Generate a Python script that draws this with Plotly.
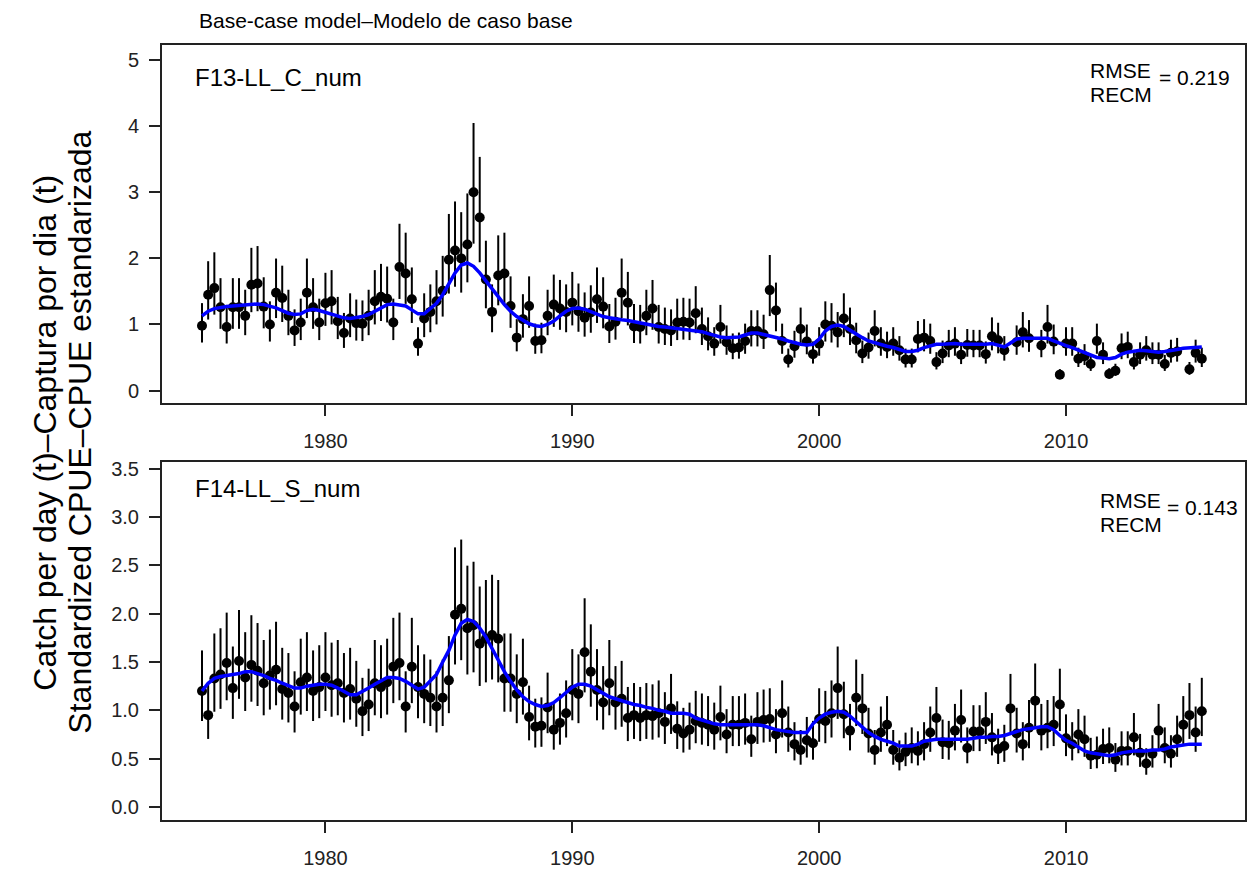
import numpy as np
import plotly.graph_objects as go

# ---------------- data ----------------
start_year = 1975.0
n_q = 163
years = [start_year + q / 4 for q in range(n_q)]

top_obs = [0.98,1.45,1.55,1.26,0.96,1.26,1.26,1.13,1.60,1.62,1.27,1.00,1.48,1.40,1.13,0.91,1.03,1.48,1.26,1.03,
           1.32,1.35,1.05,0.87,1.09,1.02,1.01,1.13,1.35,1.42,1.39,1.03,1.87,1.77,1.38,0.71,1.09,
           1.19,1.35,1.51,1.98,2.12,2.00,2.21,3.00,2.62,1.68,1.19,1.74,1.77,1.28,0.80,1.08,1.28,0.75,0.76,1.13,
           1.30,1.24,1.19,1.33,1.20,1.10,1.18,1.38,1.27,0.97,1.04,1.48,1.33,0.97,0.96,1.13,1.24,0.96,0.93,0.91,
           1.03,1.04,1.03,1.17,
           0.93,0.82,0.71,0.96,0.73,0.64,0.65,0.75,0.90,0.90,0.85,1.52,1.21,0.75,0.47,0.67,0.93,0.74,0.55,0.71,
           1.00,0.98,0.88,1.09,0.93,0.76,0.56,0.65,0.90,0.71,0.66,0.71,0.61,0.47,0.47,0.78,0.80,0.75,0.43,0.56,
           0.68,0.71,
           0.54,0.69,0.68,0.68,0.55,0.82,0.76,0.61,None,0.73,0.88,0.79,None,0.68,0.96,0.74,0.24,0.71,0.71,0.48,
           0.52,0.40,0.75,0.54,0.25,0.30,0.64,0.66,0.43,0.54,0.61,0.54,0.54,0.40,0.57,0.59,None,0.32,0.57,0.48]

top_fit = [1.13,1.20,1.24,1.26,1.27,1.28,1.29,1.30,1.31,1.31,1.30,1.28,1.25,1.21,1.17,1.15,1.16,1.21,1.23,1.21,
           1.18,1.15,1.12,1.10,1.09,1.10,1.12,1.15,1.20,1.26,1.30,1.31,1.30,1.28,1.22,1.16,1.16,
           1.24,1.32,1.45,1.62,1.78,1.90,1.93,1.88,1.78,1.66,1.53,1.42,1.30,1.20,1.12,1.06,1.01,0.98,0.97,1.00,
           1.05,1.13,1.20,1.24,1.25,1.23,1.19,1.15,1.12,1.10,1.08,1.07,1.06,1.04,1.02,1.00,0.99,0.97,0.96,0.95,
           0.93,0.92,0.92,0.91,
           0.89,0.86,0.83,0.81,0.80,0.80,0.81,0.84,0.87,0.87,0.85,0.83,0.81,0.78,0.75,0.72,0.70,0.69,0.70,0.78,
           0.90,0.97,0.99,0.97,0.91,0.86,0.80,0.75,0.72,0.69,0.67,0.65,0.62,0.59,0.59,0.61,0.65,0.68,0.70,0.70,
           0.71,0.71,
           0.70,0.70,0.69,0.69,0.70,0.71,0.69,0.66,0.72,0.78,0.79,0.79,0.79,0.79,0.79,0.75,0.71,0.68,0.65,0.61,
           0.57,0.53,0.50,0.49,0.48,0.50,0.55,0.58,0.60,0.61,0.60,0.59,0.58,0.59,0.60,0.62,0.64,0.65,0.65,0.66]

bot_obs = [1.20,0.95,1.33,1.37,1.49,1.23,1.51,1.34,1.47,1.41,1.28,1.36,1.42,1.22,1.18,1.04,1.29,1.34,1.20,1.24,
           1.34,1.26,1.28,1.18,1.22,1.12,0.99,1.06,1.28,1.24,1.29,1.45,1.49,1.04,1.45,1.24,1.17,
           1.13,1.04,1.13,1.31,1.99,2.05,1.85,1.88,1.69,1.74,1.78,1.74,1.33,1.33,1.17,1.29,0.93,0.83,0.84,1.03,
           0.80,0.87,0.97,1.21,1.17,1.60,1.40,1.21,1.08,1.28,1.08,1.12,0.92,0.95,0.92,0.95,0.94,0.97,0.88,1.02,
           0.81,0.76,0.80,0.89,
           0.87,0.85,0.80,0.93,0.75,0.85,0.85,0.87,0.70,0.88,0.90,0.91,0.75,0.97,0.77,0.65,0.59,0.69,0.66,0.91,
           0.89,0.97,1.23,0.96,0.79,1.13,1.02,0.76,0.59,0.77,0.85,0.59,0.51,0.57,0.61,0.58,0.65,0.77,0.92,0.67,
           0.66,0.79,
           0.90,0.61,0.78,0.78,0.88,0.72,0.60,0.63,1.02,0.76,0.65,0.82,1.10,0.79,0.82,0.85,1.06,0.71,0.65,0.75,
           0.70,0.53,0.54,0.60,0.61,0.49,0.58,0.58,0.72,0.56,0.45,0.55,0.79,0.61,0.55,0.70,0.85,0.95,0.77,0.99]

bot_fit = [1.20,1.28,1.33,1.35,1.36,1.37,1.38,1.40,1.40,1.38,1.36,1.33,1.31,1.28,1.25,1.23,1.23,1.25,1.26,1.27,
           1.27,1.26,1.23,1.19,1.16,1.16,1.19,1.23,1.27,1.31,1.34,1.34,1.33,1.30,1.26,1.22,1.24,
           1.30,1.37,1.50,1.62,1.78,1.90,1.94,1.92,1.85,1.76,1.64,1.52,1.40,1.30,1.21,1.14,1.09,1.06,1.04,1.05,
           1.08,1.13,1.19,1.24,1.27,1.27,1.25,1.21,1.17,1.14,1.12,1.10,1.08,1.06,1.05,1.03,1.02,1.00,0.99,0.97,
           0.97,0.97,0.96,0.92,
           0.90,0.88,0.86,0.85,0.85,0.85,0.85,0.85,0.85,0.85,0.84,0.82,0.80,0.79,0.78,0.77,0.77,0.77,0.86,0.92,
           0.96,0.98,0.99,0.98,0.94,0.88,0.82,0.77,0.73,0.70,0.68,0.66,0.63,0.63,0.63,0.65,0.68,0.69,0.70,0.70,
           0.70,0.70,
           0.70,0.70,0.71,0.72,0.72,0.73,0.73,0.74,0.76,0.78,0.80,0.81,0.82,0.83,0.83,0.80,0.74,0.69,0.66,0.62,
           0.58,0.56,0.55,0.54,0.53,0.54,0.56,0.57,0.58,0.58,0.58,0.59,0.59,0.60,0.62,0.63,0.64,0.65,0.65,0.65]

log_se_top = 0.153
log_se_bot = 0.153

panel_names = ["F13-LL_C_num", "F14-LL_S_num"]
rmse_values = ["0.219", "0.143"]
x_ticks = [1980, 1990, 2000, 2010]
top_yticks = [0, 1, 2, 3, 4, 5]
bot_yticks = [0.0, 0.5, 1.0, 1.5, 2.0, 2.5, 3.0, 3.5]
title_text = "Base-case model\u2013Modelo de caso base"
ylab_lines = ["Catch per day (t)\u2013Captura por dia (t)", "Standardized CPUE\u2013CPUE estandarizada"]

FONT = "Liberation Sans, Arial, sans-serif"


def ci(obs, se):
    o = np.array([np.nan if v is None else v for v in obs], dtype=float)
    up = o * np.exp(1.96 * se) - o
    lo = o - o * np.exp(-1.96 * se)
    return o, up, lo


fig = go.Figure()
for i, (obs, fit, se) in enumerate([(top_obs, top_fit, log_se_top), (bot_obs, bot_fit, log_se_bot)]):
    xa = "x" if i == 0 else "x2"
    ya = "y" if i == 0 else "y2"
    o, up, lo = ci(obs, se)
    fig.add_trace(go.Scatter(
        x=years, y=o, mode="markers", xaxis=xa, yaxis=ya,
        marker=dict(color="black", size=10),
        error_y=dict(type="data", array=up, arrayminus=lo, symmetric=False,
                     color="black", thickness=2, width=0),
        showlegend=False))
    fig.add_trace(go.Scatter(
        x=years, y=fit, mode="lines", xaxis=xa, yaxis=ya,
        line=dict(color="#0000FF", width=3.5), showlegend=False))

axis_common = dict(showline=True, linecolor="#222222", linewidth=2, mirror=True,
                   ticks="outside", ticklen=11, tickwidth=1.5, tickcolor="#222222",
                   showgrid=False, zeroline=False,
                   tickfont=dict(family=FONT, size=20, color="#222222"))

fig.update_layout(
    width=1258, height=880,
    margin=dict(l=162, r=11, t=45, b=39),
    plot_bgcolor="white", paper_bgcolor="white",
    xaxis=dict(domain=[0, 1], anchor="y", range=[1973.38, 2017.25],
               tickvals=x_ticks, ticklabelstandoff=8, **axis_common),
    yaxis=dict(domain=[0.538, 1.0], anchor="x", range=[-0.19, 5.23],
               tickvals=top_yticks, ticktext=[str(v) for v in top_yticks],
               ticklabelstandoff=6, **axis_common),
    xaxis2=dict(domain=[0, 1], anchor="y2", range=[1973.38, 2017.25],
                tickvals=x_ticks, ticklabelstandoff=8, **axis_common),
    yaxis2=dict(domain=[0.0, 0.462], anchor="x2", range=[-0.135, 3.57],
                tickvals=bot_yticks, ticktext=[f"{v:.1f}" for v in bot_yticks],
                ticklabelstandoff=6, **axis_common),
)

ann = []
ann.append(dict(text=title_text, xref="paper", yref="paper", x=0.032, y=1.031,
                xanchor="left", yanchor="middle", showarrow=False,
                font=dict(family=FONT, size=21, color="black")))
for xp, line in zip([-0.1088, -0.0765], ylab_lines):
    ann.append(dict(text=line, xref="paper", yref="paper", x=xp, y=0.5,
                    xanchor="center", yanchor="middle", showarrow=False, textangle=-90,
                    font=dict(family=FONT, size=32, color="black")))
label_pos = [("x domain", "y domain", 0.910, 0.929, 0.861, 0.908, 0.855, 0.919),
             ("x2 domain", "y2 domain", 0.927, 0.892, 0.824, 0.873, 0.864, 0.926)]
for (xr, yr, ylab, yr1, yr2, yeq, xr_l, xeq), name, val in zip(label_pos, panel_names, rmse_values):
    ann.append(dict(text=name, xref=xr, yref=yr, x=0.0286, y=ylab, xanchor="left", yanchor="middle",
                    showarrow=False, font=dict(family=FONT, size=24, color="black")))
    ann.append(dict(text="RMSE", xref=xr, yref=yr, x=xr_l, y=yr1, xanchor="left", yanchor="middle",
                    showarrow=False, font=dict(family=FONT, size=21, color="black")))
    ann.append(dict(text="RECM", xref=xr, yref=yr, x=xr_l, y=yr2, xanchor="left", yanchor="middle",
                    showarrow=False, font=dict(family=FONT, size=21, color="black")))
    ann.append(dict(text="= " + val, xref=xr, yref=yr, x=xeq, y=yeq, xanchor="left", yanchor="middle",
                    showarrow=False, font=dict(family=FONT, size=21, color="black")))
fig.update_layout(annotations=ann)

fig.write_html("out.html")
